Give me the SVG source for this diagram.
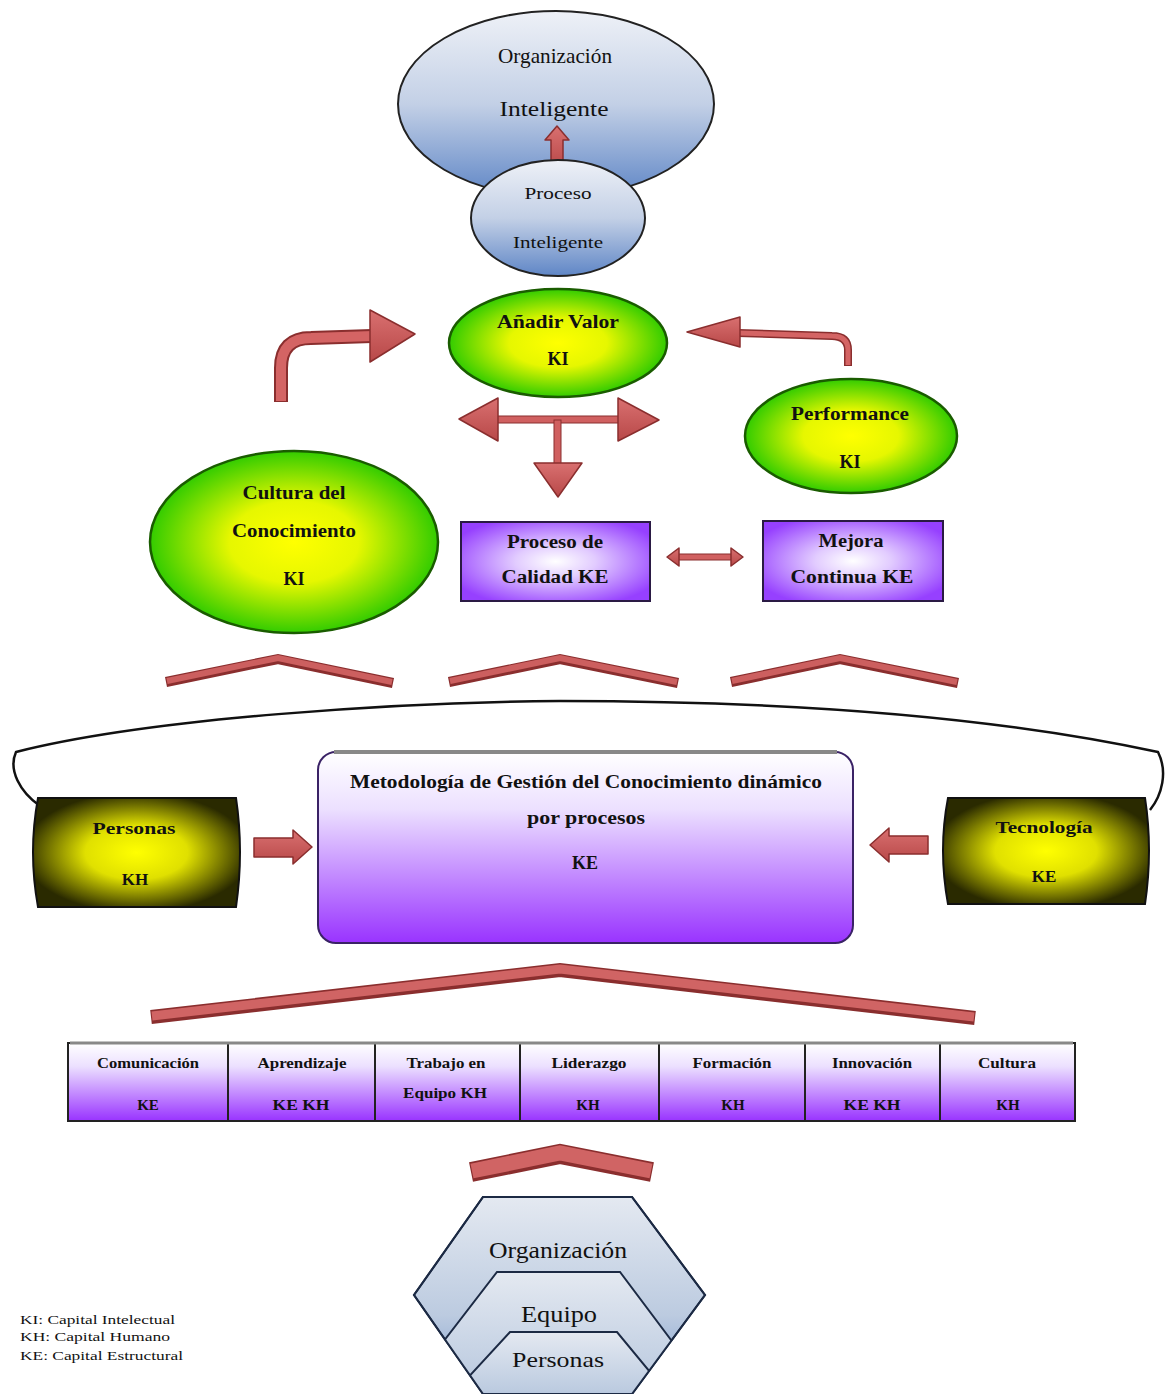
<svg xmlns="http://www.w3.org/2000/svg" width="1167" height="1394" viewBox="0 0 1167 1394">
  <defs>
    <linearGradient id="gBlue" x1="0" y1="0" x2="0" y2="1">
      <stop offset="0" stop-color="#eef1f7"/>
      <stop offset="0.5" stop-color="#c3d0e6"/>
      <stop offset="1" stop-color="#5f86c6"/>
    </linearGradient>
    <radialGradient id="gGreen" cx="0.5" cy="0.5" r="0.5">
      <stop offset="0" stop-color="#ffff00"/>
      <stop offset="0.45" stop-color="#e6f700"/>
      <stop offset="1" stop-color="#33cc00"/>
    </radialGradient>
    <radialGradient id="gPurple" cx="0.5" cy="0.5" r="0.6">
      <stop offset="0" stop-color="#ffffff"/>
      <stop offset="0.35" stop-color="#e2ccff"/>
      <stop offset="1" stop-color="#9640ff"/>
    </radialGradient>
    <radialGradient id="gOlive" cx="0.5" cy="0.5" r="0.55">
      <stop offset="0" stop-color="#ffff00"/>
      <stop offset="0.45" stop-color="#e0e000"/>
      <stop offset="1" stop-color="#2a2a00"/>
    </radialGradient>
    <linearGradient id="gLilac" x1="0" y1="0" x2="0" y2="1">
      <stop offset="0" stop-color="#ffffff"/>
      <stop offset="0.3" stop-color="#ece0ff"/>
      <stop offset="1" stop-color="#9933ff"/>
    </linearGradient>
    <linearGradient id="gHex" x1="0" y1="0" x2="0" y2="1">
      <stop offset="0" stop-color="#e4e9f1"/>
      <stop offset="0.6" stop-color="#bccbe0"/>
      <stop offset="1" stop-color="#7b9bcc"/>
    </linearGradient>
    <linearGradient id="gArrow" x1="0" y1="0" x2="0" y2="1">
      <stop offset="0" stop-color="#d97070"/>
      <stop offset="1" stop-color="#b84848"/>
    </linearGradient>
    <!-- outline of the outer hexagon, used to trim the nested layers -->
    <clipPath id="hexClip">
      <polygon points="483,1197 632,1197 705,1295 632,1394 483,1394 414,1295"/>
    </clipPath>
  </defs>
  <style>
    text { font-family: "Liberation Serif", "Times New Roman", serif; fill: #111; text-anchor: middle; }
    .b { font-weight: bold; }
    .ellBlue { fill: url(#gBlue); stroke: #222; stroke-width: 2; }
    .ellGreen { fill: url(#gGreen); stroke: #1a5c00; stroke-width: 2.5; }
    .boxPurple { fill: url(#gPurple); stroke: #2a1a44; stroke-width: 2; }
    .boxOlive { fill: url(#gOlive); stroke: #111; stroke-width: 2; }
    .arrow { fill: url(#gArrow); stroke: #8a2e2e; stroke-width: 1.5; stroke-linejoin: round; }
    .shaftOut { fill: none; stroke: #8a2e2e; }
    .shaftIn { fill: none; stroke: #d46464; }
    .chev { fill: none; stroke-linejoin: miter; stroke-linecap: butt; }
    .hex { fill: url(#gHex); stroke: #1c2a44; stroke-width: 2; }
    .cell { fill: url(#gLilac); stroke: #222; stroke-width: 2; }
    .legend { font-size: 12px; text-anchor: start; }
  </style>

  <!-- Organización Inteligente (drawn first so the small arrow sits on it) -->
  <g id="org-inteligente">
    <ellipse class="ellBlue" cx="556" cy="104" rx="158" ry="93"/>
    <text x="555" y="63" font-size="21" textLength="114" lengthAdjust="spacingAndGlyphs">Organización</text>
    <text x="554" y="116" font-size="21" textLength="109" lengthAdjust="spacingAndGlyphs">Inteligente</text>
  </g>

  <!-- connectors: arrows, chevrons and framing curve -->
  <g id="connectors">
    <!-- small up arrow between the two top ellipses -->
    <polygon class="arrow" points="557,126 569,140 563,140 563,168 551,168 551,140 545,140"/>

    <!-- curved arrow: Cultura del Conocimiento -> Añadir Valor -->
    <path class="shaftOut" stroke-width="14" d="M281,402 L281,368 Q281,338 311,338 L372,336"/>
    <path class="shaftIn" stroke-width="10" d="M281,401 L281,368 Q281,338 311,338 L373,336"/>
    <polygon class="arrow" points="370,310 415,334 370,362"/>

    <!-- curved arrow: Performance -> Añadir Valor -->
    <path class="shaftOut" stroke-width="8" d="M848,366 L848,350 Q848,336 832,336 L738,333"/>
    <path class="shaftIn" stroke-width="5" d="M848,365 L848,350 Q848,336 832,336 L739,333"/>
    <polygon class="arrow" points="740,317 687,332 740,347"/>

    <!-- three-way arrow below Añadir Valor -->
    <rect x="495" y="416" width="126" height="7" fill="#d06060" stroke="#8a2e2e" stroke-width="1"/>
    <rect x="554" y="420" width="7" height="44" fill="#d06060" stroke="#8a2e2e" stroke-width="1"/>
    <polygon class="arrow" points="498,398 459,419 498,441"/>
    <polygon class="arrow" points="618,398 659,420 618,441"/>
    <polygon class="arrow" points="534,463 582,463 558,497"/>

    <!-- double arrow between the two purple boxes -->
    <rect x="676" y="554" width="58" height="6" fill="#d06060" stroke="#8a2e2e" stroke-width="1"/>
    <polygon class="arrow" points="679,548 667,557 679,566"/>
    <polygon class="arrow" points="731,548 743,557 731,566"/>

    <!-- three upper chevrons -->
    <g class="chev">
      <polyline stroke="#8a2e2e" stroke-width="10" points="166,682 278,659 393,683"/>
      <polyline stroke="#cc5f5f" stroke-width="6" points="167,681 278,658 392,682"/>
      <polyline stroke="#8a2e2e" stroke-width="10" points="449,682 560,659 678,683"/>
      <polyline stroke="#cc5f5f" stroke-width="6" points="450,681 560,658 677,682"/>
      <polyline stroke="#8a2e2e" stroke-width="10" points="731,682 840,659 958,683"/>
      <polyline stroke="#cc5f5f" stroke-width="6" points="732,681 840,658 957,682"/>
    </g>

    <!-- black framing curve linking Personas and Tecnología -->
    <path d="M40,806 C 20,792 8,770 16,752 C 150,718 400,702 560,701 C 800,701 1000,718 1158,752 C 1168,772 1162,795 1150,810" fill="none" stroke="#111" stroke-width="2.5"/>

    <!-- arrows into the methodology box -->
    <polygon class="arrow" points="254,838 293,838 293,830 312,847 293,864 293,857 254,857"/>
    <polygon class="arrow" points="928,836 889,836 889,828 870,845 889,862 889,854 928,854"/>

    <!-- large chevron above the competence row -->
    <g class="chev">
      <polyline stroke="#8a2e2e" stroke-width="14" points="151,1017 560,970 975,1018"/>
      <polyline stroke="#d06464" stroke-width="9" points="152,1016 560,969 974,1017"/>
    </g>

    <!-- small chevron above the hexagon -->
    <g class="chev">
      <polyline stroke="#8a2e2e" stroke-width="20" points="471,1172 560,1154 652,1172"/>
      <polyline stroke="#d06464" stroke-width="15" points="472,1171 560,1153 651,1171"/>
    </g>
  </g>

  <!-- Proceso Inteligente -->
  <g id="proceso-inteligente">
    <ellipse class="ellBlue" cx="558" cy="218" rx="87" ry="58"/>
    <text x="558" y="199" font-size="17" textLength="67" lengthAdjust="spacingAndGlyphs">Proceso</text>
    <text x="558" y="248" font-size="17" textLength="90" lengthAdjust="spacingAndGlyphs">Inteligente</text>
  </g>

  <!-- Añadir Valor -->
  <g id="anadir-valor">
    <ellipse class="ellGreen" cx="558" cy="343" rx="109" ry="54"/>
    <text class="b" x="558" y="328" font-size="18" textLength="122" lengthAdjust="spacingAndGlyphs">Añadir Valor</text>
    <text class="b" x="558" y="365" font-size="18">KI</text>
  </g>

  <!-- Performance -->
  <g id="performance">
    <ellipse class="ellGreen" cx="851" cy="436" rx="106" ry="57"/>
    <text class="b" x="850" y="420" font-size="18" textLength="118" lengthAdjust="spacingAndGlyphs">Performance</text>
    <text class="b" x="850" y="468" font-size="18">KI</text>
  </g>

  <!-- Cultura del Conocimiento -->
  <g id="cultura-conocimiento">
    <ellipse class="ellGreen" cx="294" cy="542" rx="144" ry="91"/>
    <text class="b" x="294" y="499" font-size="18" textLength="103" lengthAdjust="spacingAndGlyphs">Cultura del</text>
    <text class="b" x="294" y="537" font-size="18" textLength="124" lengthAdjust="spacingAndGlyphs">Conocimiento</text>
    <text class="b" x="294" y="585" font-size="18">KI</text>
  </g>

  <!-- Proceso de Calidad -->
  <g id="proceso-calidad">
    <rect class="boxPurple" x="461" y="522" width="189" height="79"/>
    <text class="b" x="555" y="548" font-size="18" textLength="96" lengthAdjust="spacingAndGlyphs">Proceso de</text>
    <text class="b" x="555" y="583" font-size="18" textLength="107" lengthAdjust="spacingAndGlyphs">Calidad KE</text>
  </g>

  <!-- Mejora Continua -->
  <g id="mejora-continua">
    <rect class="boxPurple" x="763" y="521" width="180" height="80"/>
    <text class="b" x="851" y="547" font-size="18" textLength="65" lengthAdjust="spacingAndGlyphs">Mejora</text>
    <text class="b" x="852" y="583" font-size="18" textLength="123" lengthAdjust="spacingAndGlyphs">Continua KE</text>
  </g>

  <!-- Personas -->
  <g id="personas">
    <path class="boxOlive" d="M38,798 L236,798 Q244,852 236,907 L38,907 Q28,852 38,798 Z"/>
    <text class="b" x="134" y="834" font-size="17" textLength="83" lengthAdjust="spacingAndGlyphs">Personas</text>
    <text class="b" x="135" y="885" font-size="17">KH</text>
  </g>

  <!-- Tecnología -->
  <g id="tecnologia">
    <path class="boxOlive" d="M948,798 L1145,798 Q1153,850 1145,904 L948,904 Q938,850 948,798 Z"/>
    <text class="b" x="1044" y="833" font-size="17" textLength="97" lengthAdjust="spacingAndGlyphs">Tecnología</text>
    <text class="b" x="1044" y="882" font-size="17">KE</text>
  </g>

  <!-- Metodología de Gestión del Conocimiento -->
  <g id="metodologia">
    <rect x="318" y="752" width="535" height="191" rx="18" fill="url(#gLilac)" stroke="#3a2266" stroke-width="2"/>
    <path d="M334,752 L837,752" stroke="#888" stroke-width="4"/>
    <text class="b" x="586" y="788" font-size="18" textLength="472" lengthAdjust="spacingAndGlyphs">Metodología de Gestión del Conocimiento dinámico</text>
    <text class="b" x="586" y="824" font-size="18" textLength="118" lengthAdjust="spacingAndGlyphs">por procesos</text>
    <text class="b" x="585" y="869" font-size="18">KE</text>
  </g>

  <!-- competence row -->
  <g id="comunicacion">
    <rect class="cell" x="68" y="1043" width="160" height="78"/>
    <text class="b" x="148" y="1068" font-size="14" textLength="102" lengthAdjust="spacingAndGlyphs">Comunicación</text>
    <text class="b" x="148" y="1110" font-size="15">KE</text>
  </g>
  <g id="aprendizaje">
    <rect class="cell" x="228" y="1043" width="147" height="78"/>
    <text class="b" x="302" y="1068" font-size="14" textLength="89" lengthAdjust="spacingAndGlyphs">Aprendizaje</text>
    <text class="b" x="301" y="1110" font-size="15" textLength="57" lengthAdjust="spacingAndGlyphs">KE KH</text>
  </g>
  <g id="trabajo-equipo">
    <rect class="cell" x="375" y="1043" width="145" height="78"/>
    <text class="b" x="446" y="1068" font-size="14" textLength="79" lengthAdjust="spacingAndGlyphs">Trabajo en</text>
    <text class="b" x="445" y="1098" font-size="14" textLength="84" lengthAdjust="spacingAndGlyphs">Equipo KH</text>
  </g>
  <g id="liderazgo">
    <rect class="cell" x="520" y="1043" width="139" height="78"/>
    <text class="b" x="589" y="1068" font-size="14" textLength="75" lengthAdjust="spacingAndGlyphs">Liderazgo</text>
    <text class="b" x="588" y="1110" font-size="15">KH</text>
  </g>
  <g id="formacion">
    <rect class="cell" x="659" y="1043" width="146" height="78"/>
    <text class="b" x="732" y="1068" font-size="14" textLength="79" lengthAdjust="spacingAndGlyphs">Formación</text>
    <text class="b" x="733" y="1110" font-size="15">KH</text>
  </g>
  <g id="innovacion">
    <rect class="cell" x="805" y="1043" width="135" height="78"/>
    <text class="b" x="872" y="1068" font-size="14" textLength="80" lengthAdjust="spacingAndGlyphs">Innovación</text>
    <text class="b" x="872" y="1110" font-size="15" textLength="57" lengthAdjust="spacingAndGlyphs">KE KH</text>
  </g>
  <g id="cultura">
    <rect class="cell" x="940" y="1043" width="135" height="78"/>
    <text class="b" x="1007" y="1068" font-size="14" textLength="58" lengthAdjust="spacingAndGlyphs">Cultura</text>
    <text class="b" x="1008" y="1110" font-size="15">KH</text>
  </g>
  <path d="M70,1043 L1073,1043" stroke="#888" stroke-width="3"/>

  <!-- nested hexagon: Organización / Equipo / Personas -->
  <g id="hex-organizacion">
    <polygon class="hex" points="483,1197 632,1197 705,1295 632,1394 483,1394 414,1295"/>
    <text x="558" y="1258" font-size="24" textLength="138" lengthAdjust="spacingAndGlyphs">Organización</text>
  </g>
  <g id="hex-equipo" clip-path="url(#hexClip)">
    <polygon class="hex" points="497,1272 620,1272 695,1372 640,1450 476,1450 420,1372"/>
    <text x="559" y="1322" font-size="24" textLength="76" lengthAdjust="spacingAndGlyphs">Equipo</text>
  </g>
  <g id="hex-personas" clip-path="url(#hexClip)">
    <polygon class="hex" points="510,1332 617,1332 660,1384 630,1430 490,1430 462,1384"/>
    <text x="558" y="1367" font-size="22" textLength="92" lengthAdjust="spacingAndGlyphs">Personas</text>
  </g>
  <polygon points="483,1197 632,1197 705,1295 632,1394 483,1394 414,1295" fill="none" stroke="#1c2a44" stroke-width="2"/>

  <!-- legend -->
  <g id="legend">
    <text class="legend" x="20" y="1324" textLength="155" lengthAdjust="spacingAndGlyphs">KI: Capital Intelectual</text>
    <text class="legend" x="20" y="1341" textLength="150" lengthAdjust="spacingAndGlyphs">KH: Capital Humano</text>
    <text class="legend" x="20" y="1360" textLength="163" lengthAdjust="spacingAndGlyphs">KE: Capital Estructural</text>
  </g>
</svg>
